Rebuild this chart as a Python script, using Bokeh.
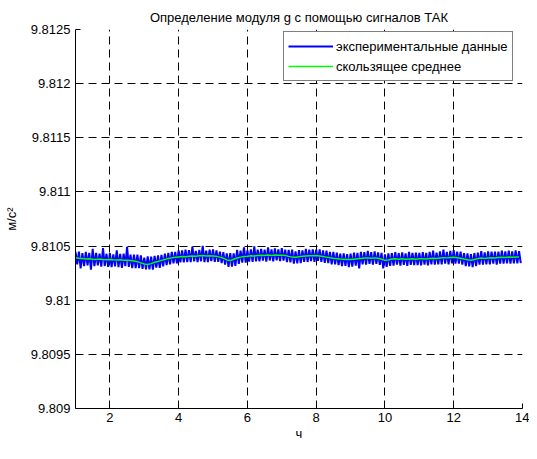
from bokeh.plotting import figure
from bokeh.models import FixedTicker, CustomJSTickFormatter, Legend, LegendItem, Range1d
from bokeh.embed import file_html
from bokeh.resources import INLINE
import numpy as np

title_text = "Определение модуля g с помощью сигналов ТАК"
x_label = "ч"
y_label = "м/с²"
legend_labels = ["экспериментальные данные", "скользящее среднее"]

x_ticks = [2, 4, 6, 8, 10, 12, 14]
y_ticks = [9.809, 9.8095, 9.81, 9.8105, 9.811, 9.8115, 9.812, 9.8125]

# sampling grid of the recordings (hours)
t_start = 1.0
dt_exp = 0.05
dt_avg = 0.1

exp_values = [
    9.810447, 9.810332, 9.810448, 9.810293, 9.810435, 9.810315, 9.810446, 9.810321, 9.810438, 9.810283,
    9.810474, 9.810314, 9.810437, 9.810322, 9.810430, 9.810310, 9.810481, 9.810316, 9.810429, 9.810309,
    9.810436, 9.810306, 9.810423, 9.810313, 9.810461, 9.810306, 9.810429, 9.810299, 9.810430, 9.810315,
    9.810493, 9.810308, 9.810421, 9.810296, 9.810422, 9.810297, 9.810421, 9.810296, 9.810415, 9.810290,
    9.810394, 9.810284, 9.810405, 9.810285, 9.810403, 9.810283, 9.810410, 9.810300, 9.810413, 9.810298,
    9.810418, 9.810313, 9.810430, 9.810325, 9.810436, 9.810331, 9.810446, 9.810341, 9.810446, 9.810341,
    9.810460, 9.810350, 9.810459, 9.810349, 9.810467, 9.810352, 9.810462, 9.810352, 9.810494, 9.810359,
    9.810456, 9.810351, 9.810465, 9.810360, 9.810502, 9.810352, 9.810458, 9.810353, 9.810466, 9.810361,
    9.810469, 9.810354, 9.810460, 9.810355, 9.810448, 9.810343, 9.810443, 9.810328, 9.810432, 9.810307,
    9.810436, 9.810311, 9.810433, 9.810318, 9.810465, 9.810335, 9.810458, 9.810348, 9.810488, 9.810348,
    9.810461, 9.810356, 9.810470, 9.810355, 9.810498, 9.810358, 9.810468, 9.810358, 9.810475, 9.810365,
    9.810467, 9.810357, 9.810487, 9.810367, 9.810469, 9.810359, 9.810478, 9.810368, 9.810470, 9.810360,
    9.810481, 9.810366, 9.810467, 9.810352, 9.810465, 9.810350, 9.810468, 9.810338, 9.810451, 9.810341,
    9.810462, 9.810342, 9.810460, 9.810355, 9.810473, 9.810353, 9.810466, 9.810361, 9.810470, 9.810355,
    9.810468, 9.810363, 9.810469, 9.810354, 9.810459, 9.810344, 9.810458, 9.810343, 9.810447, 9.810332,
    9.810447, 9.810332, 9.810439, 9.810324, 9.810430, 9.810315, 9.810433, 9.810318, 9.810426, 9.810306,
    9.810430, 9.810310, 9.810439, 9.810319, 9.810438, 9.810293, 9.810446, 9.810331, 9.810444, 9.810329,
    9.810455, 9.810335, 9.810443, 9.810328, 9.810451, 9.810336, 9.810442, 9.810327, 9.810438, 9.810293,
    9.810423, 9.810308, 9.810432, 9.810317, 9.810435, 9.810320, 9.810443, 9.810328, 9.810434, 9.810319,
    9.810442, 9.810327, 9.810433, 9.810318, 9.810446, 9.810326, 9.810438, 9.810323, 9.810439, 9.810324,
    9.810437, 9.810322, 9.810444, 9.810329, 9.810436, 9.810321, 9.810446, 9.810331, 9.810458, 9.810328,
    9.810440, 9.810330, 9.810450, 9.810330, 9.810468, 9.810338, 9.810446, 9.810331, 9.810455, 9.810340,
    9.810462, 9.810337, 9.810448, 9.810338, 9.810448, 9.810328, 9.810435, 9.810315, 9.810433, 9.810313,
    9.810425, 9.810305, 9.810436, 9.810316, 9.810439, 9.810329, 9.810454, 9.810329, 9.810441, 9.810331,
    9.810450, 9.810330, 9.810448, 9.810338, 9.810449, 9.810329, 9.810449, 9.810339, 9.810457, 9.810337,
    9.810450, 9.810340, 9.810458, 9.810338, 9.810451, 9.810341, 9.810460, 9.810340, 9.810453, 9.810343,
]

# moving average (m/s^2)
avg_values = [
    9.810392, 9.810388, 9.810385, 9.810381, 9.810383, 9.810379, 9.810377, 9.810380, 9.810376, 9.810374,
    9.810376, 9.810373, 9.810371, 9.810374, 9.810370, 9.810368, 9.810366, 9.810362, 9.810356, 9.810345,
    9.810334, 9.810330, 9.810338, 9.810350, 9.810358, 9.810368, 9.810375, 9.810386, 9.810391, 9.810396,
    9.810400, 9.810404, 9.810402, 9.810407, 9.810409, 9.810406, 9.810410, 9.810412, 9.810408, 9.810411,
    9.810409, 9.810405, 9.810398, 9.810388, 9.810372, 9.810366, 9.810378, 9.810390, 9.810398, 9.810403,
    9.810406, 9.810410, 9.810408, 9.810413, 9.810415, 9.810412, 9.810417, 9.810414, 9.810418, 9.810415,
    9.810416, 9.810412, 9.810405, 9.810398, 9.810396, 9.810402, 9.810405, 9.810408, 9.810411, 9.810410,
    9.810413, 9.810409, 9.810404, 9.810398, 9.810392, 9.810387, 9.810384, 9.810380, 9.810378, 9.810376,
    9.810375, 9.810379, 9.810383, 9.810386, 9.810389, 9.810390, 9.810388, 9.810391, 9.810387, 9.810378,
    9.810368, 9.810372, 9.810380, 9.810383, 9.810379, 9.810382, 9.810378, 9.810381, 9.810383, 9.810379,
    9.810382, 9.810384, 9.810381, 9.810386, 9.810388, 9.810385, 9.810390, 9.810393, 9.810391, 9.810395,
    9.810397, 9.810393, 9.810388, 9.810380, 9.810373, 9.810370, 9.810376, 9.810384, 9.810389, 9.810386,
    9.810390, 9.810393, 9.810389, 9.810394, 9.810397, 9.810395, 9.810398, 9.810396, 9.810400, 9.810398,
]

exp_t = np.round(t_start + dt_exp * np.arange(len(exp_values)), 3)
avg_t = np.round(t_start + dt_avg * np.arange(len(avg_values)), 3)

FONT = "Liberation Sans"

p = figure(width=529, height=443, output_backend="svg", toolbar_location=None,
           x_range=Range1d(1, 14), y_range=Range1d(9.809, 9.8125),
           min_border_left=72, min_border_right=7, min_border_top=29, min_border_bottom=33,
           title=title_text)
p.background_fill_color = "white"
p.border_fill_color = "white"
p.outline_line_color = None

p.title.text_font = FONT
p.title.text_font_size = "13px"
p.title.text_font_style = "normal"
p.title.text_color = "black"
p.title.align = "center"

r_exp = p.line(exp_t, exp_values, line_color="#0000FF", line_width=2.0)
r_avg = p.line(avg_t, avg_values, line_color="#00FF00", line_width=1.5)

for ax in (p.xaxis[0], p.yaxis[0]):
    ax.major_tick_in = 5
    ax.major_tick_out = 0
    ax.minor_tick_line_color = None
    ax.axis_line_color = "black"
    ax.major_tick_line_color = "black"
    ax.major_label_text_font = FONT
    ax.major_label_text_font_size = "13px"
    ax.major_label_text_color = "black"
    ax.axis_label_text_font = FONT
    ax.axis_label_text_font_size = "13px"
    ax.axis_label_text_font_style = "normal"
    ax.axis_label_text_color = "black"

p.xaxis.ticker = FixedTicker(ticks=x_ticks)
p.yaxis.ticker = FixedTicker(ticks=y_ticks)
p.yaxis.formatter = CustomJSTickFormatter(code="return String(Number(tick.toFixed(4)));")
p.xaxis.major_label_standoff = 4
p.xaxis.axis_label = x_label
p.xaxis.axis_label_standoff = 1
p.yaxis.major_label_standoff = 5
p.yaxis.axis_label = y_label
p.yaxis.axis_label_standoff = 9

for g in (p.xgrid[0], p.ygrid[0]):
    g.grid_line_color = "black"
    g.grid_line_dash = "8 5"
    g.grid_line_width = 1

legend = Legend(items=[LegendItem(label=legend_labels[0], renderers=[r_exp]),
                       LegendItem(label=legend_labels[1], renderers=[r_avg])],
                location=(208, 327))
legend.border_line_color = "black"
legend.border_line_width = 1
legend.background_fill_color = "white"
legend.background_fill_alpha = 1
legend.label_text_font = FONT
legend.label_text_font_size = "13px"
legend.label_text_color = "black"
legend.glyph_width = 45
legend.glyph_height = 20
legend.label_height = 20
legend.label_standoff = 3
legend.spacing = 0
legend.padding = 4
legend.margin = 0
p.add_layout(legend)

open("out.html", "w").write(file_html(p, INLINE))
